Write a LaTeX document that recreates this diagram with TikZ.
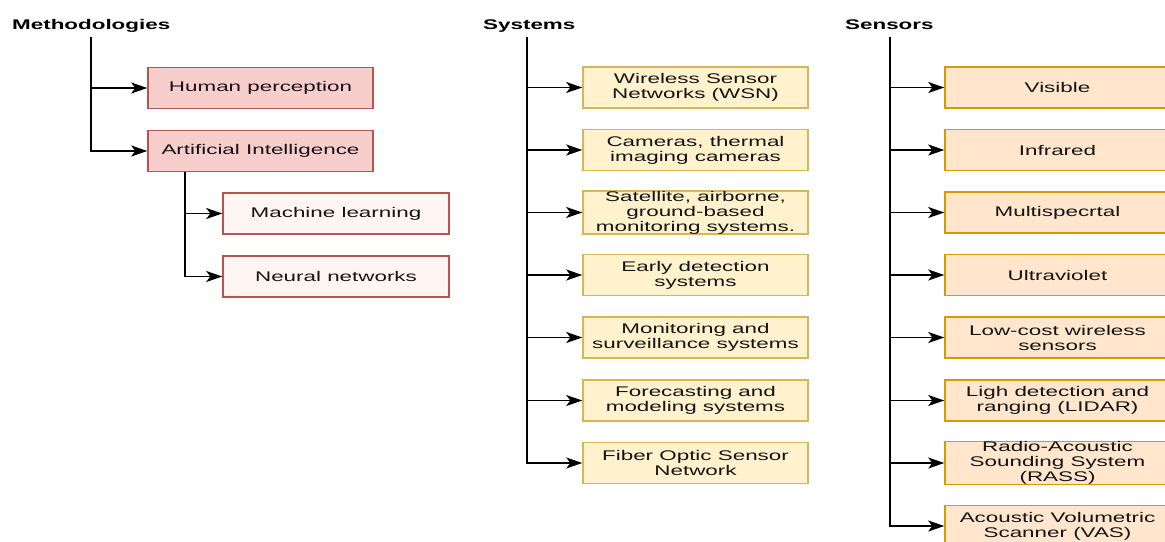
\documentclass[tikz,border=0pt]{standalone}
\usepackage{fontspec}
\setmainfont{Liberation Sans}[FakeStretch=1.6]
\usetikzlibrary{arrows.meta}
\definecolor{mfill}{HTML}{F8CECC}
\definecolor{mdraw}{HTML}{B85450}
\definecolor{subfill}{HTML}{FFF5F2}
\definecolor{sfill}{HTML}{FFF2CC}
\definecolor{sdraw}{HTML}{D6B656}
\definecolor{nfill}{HTML}{FFE6CC}
\definecolor{ndraw}{HTML}{D79B00}
\definecolor{txt}{HTML}{141414}
\tikzset{
  box/.style={draw, line width=1.5pt, inner sep=0pt, minimum width=225pt, minimum height=41pt,
    align=center, text=txt, font=\fontsize{14}{15}\selectfont},
  mbox/.style={box, fill=mfill, draw=mdraw},
  subbox/.style={box, fill=subfill, draw=mdraw, minimum width=226pt},
  sbox/.style={box, fill=sfill, draw=sdraw},
  nbox/.style={box, fill=nfill, draw=ndraw},
  title/.style={anchor=base west, inner sep=0pt, text=black, font=\fontsize{14}{15}\selectfont\bfseries},
  conn/.style={draw=black, line width=1.5pt},
  arr/.style={conn, -{Stealth[length=16pt, width=11pt, inset=4pt]}}
}
\begin{document}
\begin{tikzpicture}[x=1pt, y=-1pt]
\useasboundingbox (0,0) rectangle (1165,541);

% Methodologies
\node[title] (tm) at (12,29.5) {Methodologies};
\node[mbox] (m1) at (260.5,88) {Human perception};
\node[mbox] (m2) at (260.5,151) {Artificial Intelligence};
\node[subbox] (m3) at (336,213.5) {Machine learning};
\node[subbox] (m4) at (336,276.5) {Neural networks};
\coordinate (mtop) at (91,37);
\coordinate (aib) at (185,172);
\draw[arr] (mtop) |- (m2.west);
\draw[arr] (mtop |- m1.west) -- (m1.west);
\draw[arr] (aib) |- (m4.west);
\draw[arr] (aib |- m3.west) -- (m3.west);

% Systems
\node[title] (ts) at (483,29.5) {Systems};
\node[sbox] (s1) at (695.5,87.5) {Wireless Sensor\\Networks (WSN)};
\node[sbox] (s2) at (695.5,150) {Cameras, thermal\\imaging cameras};
\node[sbox] (s3) at (695.5,212.5) {Satellite, airborne,\\ground-based\\monitoring systems.};
\node[sbox] (s4) at (695.5,275) {Early detection\\systems};
\node[sbox] (s5) at (695.5,337.5) {Monitoring and\\surveillance systems};
\node[sbox] (s6) at (695.5,400.5) {Forecasting and\\modeling systems};
\node[sbox] (s7) at (695.5,463) {Fiber Optic Sensor\\Network};
\coordinate (stop) at (527,37);
\draw[arr] (stop) |- (s7.west);
\foreach \i in {1,...,6} {\draw[arr] (stop |- s\i.west) -- (s\i.west);}

% Sensors
\node[title] (tn) at (845,29.5) {Sensors};
\node[nbox] (n1) at (1057.5,87.5) {Visible};
\node[nbox] (n2) at (1057.5,150) {Infrared};
\node[nbox] (n3) at (1057.5,212.5) {Multispecrtal};
\node[nbox] (n4) at (1057.5,275) {Ultraviolet};
\node[nbox] (n5) at (1057.5,337.5) {Low-cost wireless\\sensors};
\node[nbox] (n6) at (1057.5,400.5) {Ligh detection and\\ranging (LIDAR)};
\node[nbox] (n7) at (1057.5,463) {Radio-Acoustic\\Sounding System\\(RASS)};
\node[nbox] (n8) at (1057.5,526) {Acoustic Volumetric\\Scanner (VAS)};
\coordinate (ntop) at (890,37);
\draw[arr] (ntop) |- (n8.west);
\foreach \i in {1,...,7} {\draw[arr] (ntop |- n\i.west) -- (n\i.west);}
\end{tikzpicture}
\end{document}
